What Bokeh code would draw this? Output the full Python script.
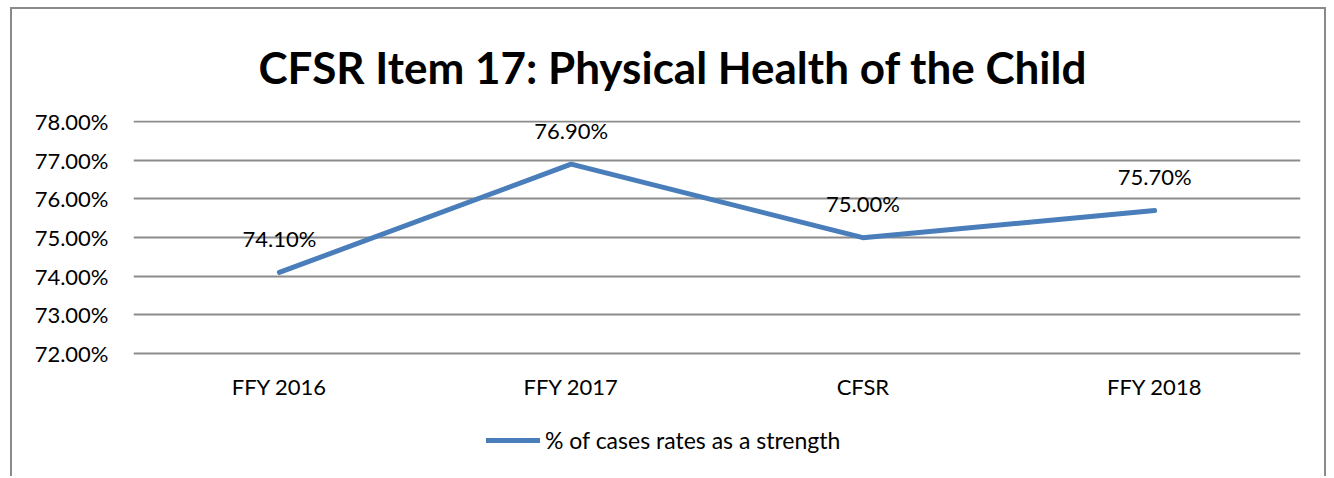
from bokeh.plotting import figure
from bokeh.models import (ColumnDataSource, FactorRange, Range1d, FixedTicker,
                          PrintfTickFormatter, LabelSet, Legend, LegendItem)
from bokeh.core.properties import value
from bokeh.embed import file_html
from bokeh.resources import INLINE

categories = ["FFY 2016", "FFY 2017", "CFSR", "FFY 2018"]
values = [74.1, 76.9, 75.0, 75.7]
y_ticks = [72, 73, 74, 75, 76, 77, 78]
title_text = "CFSR Item 17: Physical Health of the Child"
series_name = "% of cases rates as a strength"

FONT = "Lato"

source = ColumnDataSource(dict(x=categories, y=values,
                               lab=["%.2f%%" % v for v in values]))
cat_source = ColumnDataSource(dict(x=categories, y=[y_ticks[0]] * len(categories),
                                   lab=categories))

p = figure(width=1316, height=469, x_range=FactorRange(*categories),
           y_range=Range1d(68.77, 78.03), output_backend="svg", toolbar_location=None,
           title=title_text, min_border_left=121, min_border_right=28,
           min_border_top=111, min_border_bottom=0)
p.styles = {"margin-left": "10px", "margin-top": "7px",
            "border-left": "2px solid #8a8a8a", "border-top": "2px solid #8a8a8a",
            "border-right": "2px solid #8a8a8a"}

p.title.text_font = FONT
p.title.text_font_size = "44px"
p.title.text_font_style = "bold"
p.title.align = "left"
p.title.offset = 125
p.title.text_color = "#000000"
p.title.standoff = 55

p.outline_line_color = None
p.xgrid.grid_line_color = None
p.ygrid.grid_line_color = "#8c8c8c"
p.ygrid.grid_line_width = 2

p.xaxis.visible = False
p.yaxis.ticker = FixedTicker(ticks=y_ticks)
p.yaxis.formatter = PrintfTickFormatter(format="%.2f%%")
ax = p.yaxis[0]
ax.axis_line_color = None
ax.major_tick_line_color = None
ax.minor_tick_line_color = None
ax.major_tick_out = 0
ax.major_tick_in = 0
ax.major_label_text_font = FONT
ax.major_label_text_font_size = "22px"
ax.major_label_text_color = "#000000"
ax.major_label_standoff = 25

r = p.line("x", "y", source=source, line_color="#4a7ebb", line_width=5,
           line_cap="round", line_join="round")

labels = LabelSet(x="x", y="y", text="lab", source=source, y_offset=34,
                  text_align="center", text_baseline="middle",
                  text_font=value(FONT), text_font_size="22px", text_color="#000000")
p.add_layout(labels)

cat_labels = LabelSet(x="x", y="y", text="lab", source=cat_source, y_offset=-33,
                      text_align="center", text_baseline="middle",
                      text_font=value(FONT), text_font_size="22px", text_color="#000000")
p.add_layout(cat_labels)

legend = Legend(items=[LegendItem(label=series_name, renderers=[r])],
                location=(353, 24), orientation="horizontal",
                label_text_font=FONT, label_text_font_size="23px",
                label_text_color="#000000", glyph_width=54, glyph_height=20,
                label_standoff=5, padding=0, margin=0,
                border_line_color=None, background_fill_alpha=0)
p.add_layout(legend)

open("out.html", "w").write(file_html(p, INLINE))
